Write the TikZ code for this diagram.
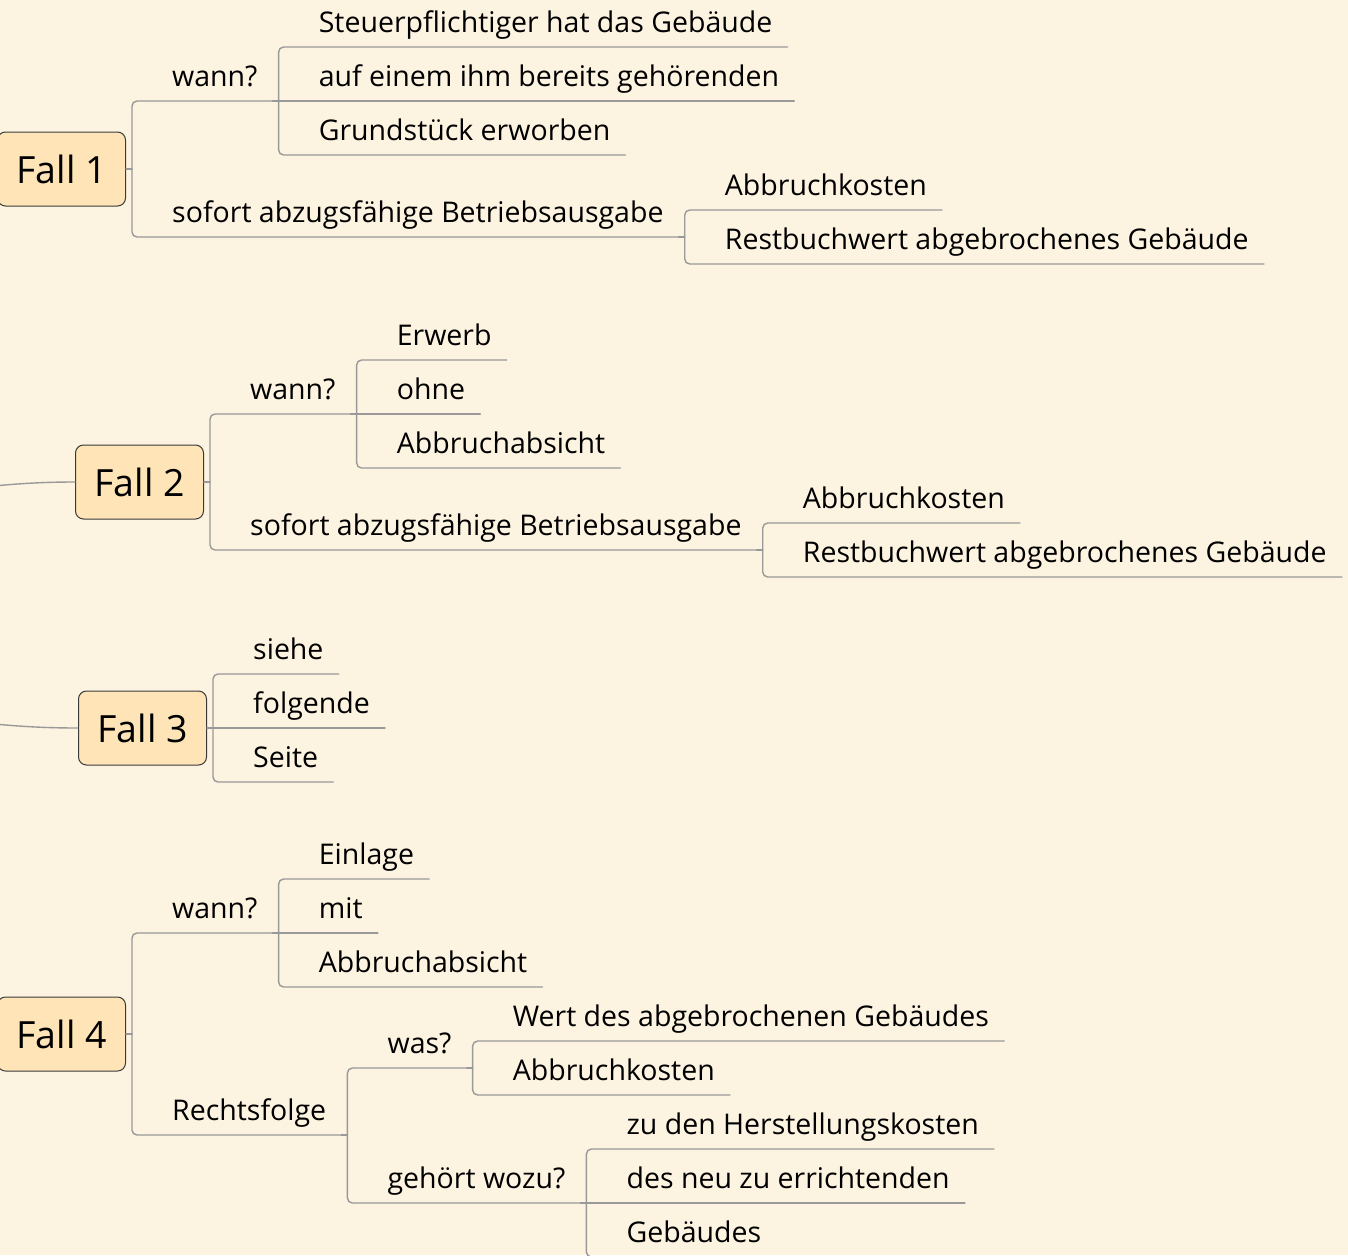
\documentclass[tikz,border=0pt]{standalone}
\usepackage{fontspec}
\setmainfont{Open Sans}
\definecolor{paper}{HTML}{FDF3E1}
\definecolor{fallfill}{HTML}{FEE4B6}
\definecolor{boxline}{HTML}{3A3A3A}
\definecolor{linegray}{HTML}{999999}
\tikzset{
  fallbox/.style={draw=boxline, fill=fallfill, rounded corners=8pt, line width=1pt,
    minimum height=74pt, minimum width=128pt, anchor=east, font=\fontsize{37.5}{44}\selectfont},
  leaf/.style={anchor=south west, inner xsep=15pt, inner ysep=7pt, text depth=7pt,
    font=\fontsize{28.5}{34}\selectfont},
  branch/.style={draw=linegray, line width=1.4pt, line cap=round, rounded corners=5pt},
}

\begin{document}
\begin{tikzpicture}[x=1pt, y=-1pt]
\useasboundingbox (0,0) rectangle (1348,1255);
\fill[paper] (0,0) rectangle (1348,1255);
\clip (0,0) rectangle (1348,1255);

% Fall 1
\node[fallbox] (f1) at (126,169) {Fall 1};
\coordinate (f1j) at ([xshift=6pt] f1.east);
\node[leaf] (w1) at ([shift={(25,-68)}] f1j) {wann?};
\coordinate (w1j) at ([xshift=6pt] w1.south east);
\node[leaf] (w1a) at ([shift={(25,-54)}] w1j) {Steuerpflichtiger hat das Gebäude};
\node[leaf] (w1b) at ([shift={(25,0)}] w1j) {auf einem ihm bereits gehörenden};
\node[leaf] (w1c) at ([shift={(25,54)}] w1j) {Grundstück erworben};
\node[leaf] (s1) at ([shift={(25,68)}] f1j) {sofort abzugsfähige Betriebsausgabe};
\coordinate (s1j) at ([xshift=6pt] s1.south east);
\node[leaf] (s1a) at ([shift={(25,-27)}] s1j) {Abbruchkosten};
\node[leaf] (s1b) at ([shift={(25,27)}] s1j) {Restbuchwert abgebrochenes Gebäude};
\draw[branch] (f1.east) -- (f1j);
\draw[branch] (f1j) |- (w1.south east);
\draw[branch] (f1j) |- (s1.south east);
\draw[branch] (w1.south east) -- (w1j);
\draw[branch] (w1j) |- (w1a.south east);
\draw[branch] (w1j) -- (w1b.south east);
\draw[branch] (w1j) |- (w1c.south east);
\draw[branch] (s1.south east) -- (s1j);
\draw[branch] (s1j) |- (s1a.south east);
\draw[branch] (s1j) |- (s1b.south east);

% Fall 2
\node[fallbox] (f2) at (204,482) {Fall 2};
\coordinate (f2j) at ([xshift=6pt] f2.east);
\coordinate (hub2) at (-60,491);
\node[leaf] (w2) at ([shift={(25,-68)}] f2j) {wann?};
\coordinate (w2j) at ([xshift=6pt] w2.south east);
\node[leaf] (w2a) at ([shift={(25,-54)}] w2j) {Erwerb};
\node[leaf] (w2b) at ([shift={(25,0)}] w2j) {ohne};
\node[leaf] (w2c) at ([shift={(25,54)}] w2j) {Abbruchabsicht};
\node[leaf] (s2) at ([shift={(25,68)}] f2j) {sofort abzugsfähige Betriebsausgabe};
\coordinate (s2j) at ([xshift=6pt] s2.south east);
\node[leaf] (s2a) at ([shift={(25,-27)}] s2j) {Abbruchkosten};
\node[leaf] (s2b) at ([shift={(25,27)}] s2j) {Restbuchwert abgebrochenes Gebäude};
\draw[branch] (hub2) to[out=5, in=180] (f2.west);
\draw[branch] (f2.east) -- (f2j);
\draw[branch] (f2j) |- (w2.south east);
\draw[branch] (f2j) |- (s2.south east);
\draw[branch] (w2.south east) -- (w2j);
\draw[branch] (w2j) |- (w2a.south east);
\draw[branch] (w2j) -- (w2b.south east);
\draw[branch] (w2j) |- (w2c.south east);
\draw[branch] (s2.south east) -- (s2j);
\draw[branch] (s2j) |- (s2a.south east);
\draw[branch] (s2j) |- (s2b.south east);

% Fall 3
\node[fallbox] (f3) at (207,728) {Fall 3};
\coordinate (f3j) at ([xshift=6pt] f3.east);
\coordinate (hub3) at (-60,719);
\node[leaf] (f3a) at ([shift={(25,-54)}] f3j) {siehe};
\node[leaf] (f3b) at ([shift={(25,0)}] f3j) {folgende};
\node[leaf] (f3c) at ([shift={(25,54)}] f3j) {Seite};
\draw[branch] (hub3) to[out=-5, in=180] (f3.west);
\draw[branch] (f3.east) -- (f3j);
\draw[branch] (f3j) |- (f3a.south east);
\draw[branch] (f3j) -- (f3b.south east);
\draw[branch] (f3j) |- (f3c.south east);

% Fall 4
\node[fallbox] (f4) at (126,1034) {Fall 4};
\coordinate (f4j) at ([xshift=6pt] f4.east);
\node[leaf] (w4) at ([shift={(25,-101)}] f4j) {wann?};
\coordinate (w4j) at ([xshift=6pt] w4.south east);
\node[leaf] (w4a) at ([shift={(25,-54)}] w4j) {Einlage};
\node[leaf] (w4b) at ([shift={(25,0)}] w4j) {mit};
\node[leaf] (w4c) at ([shift={(25,54)}] w4j) {Abbruchabsicht};
\node[leaf] (r4) at ([shift={(25,101)}] f4j) {Rechtsfolge};
\coordinate (r4j) at ([xshift=6pt] r4.south east);
\node[leaf] (r4w) at ([shift={(25,-67)}] r4j) {was?};
\coordinate (r4wj) at ([xshift=6pt] r4w.south east);
\node[leaf] (r4wa) at ([shift={(25,-27)}] r4wj) {Wert des abgebrochenen Gebäudes};
\node[leaf] (r4wb) at ([shift={(25,27)}] r4wj) {Abbruchkosten};
\node[leaf] (r4g) at ([shift={(25,68)}] r4j) {gehört wozu?};
\coordinate (r4gj) at ([xshift=6pt] r4g.south east);
\node[leaf] (r4ga) at ([shift={(25,-54)}] r4gj) {zu den Herstellungskosten};
\node[leaf] (r4gb) at ([shift={(25,0)}] r4gj) {des neu zu errichtenden};
\node[leaf] (r4gc) at ([shift={(25,54)}] r4gj) {Gebäudes};
\draw[branch] (f4.east) -- (f4j);
\draw[branch] (f4j) |- (w4.south east);
\draw[branch] (f4j) |- (r4.south east);
\draw[branch] (w4.south east) -- (w4j);
\draw[branch] (w4j) |- (w4a.south east);
\draw[branch] (w4j) -- (w4b.south east);
\draw[branch] (w4j) |- (w4c.south east);
\draw[branch] (r4.south east) -- (r4j);
\draw[branch] (r4j) |- (r4w.south east);
\draw[branch] (r4j) |- (r4g.south east);
\draw[branch] (r4w.south east) -- (r4wj);
\draw[branch] (r4wj) |- (r4wa.south east);
\draw[branch] (r4wj) |- (r4wb.south east);
\draw[branch] (r4g.south east) -- (r4gj);
\draw[branch] (r4gj) |- (r4ga.south east);
\draw[branch] (r4gj) -- (r4gb.south east);
\draw[branch] (r4gj) |- (r4gc.south east);
\end{tikzpicture}
\end{document}
